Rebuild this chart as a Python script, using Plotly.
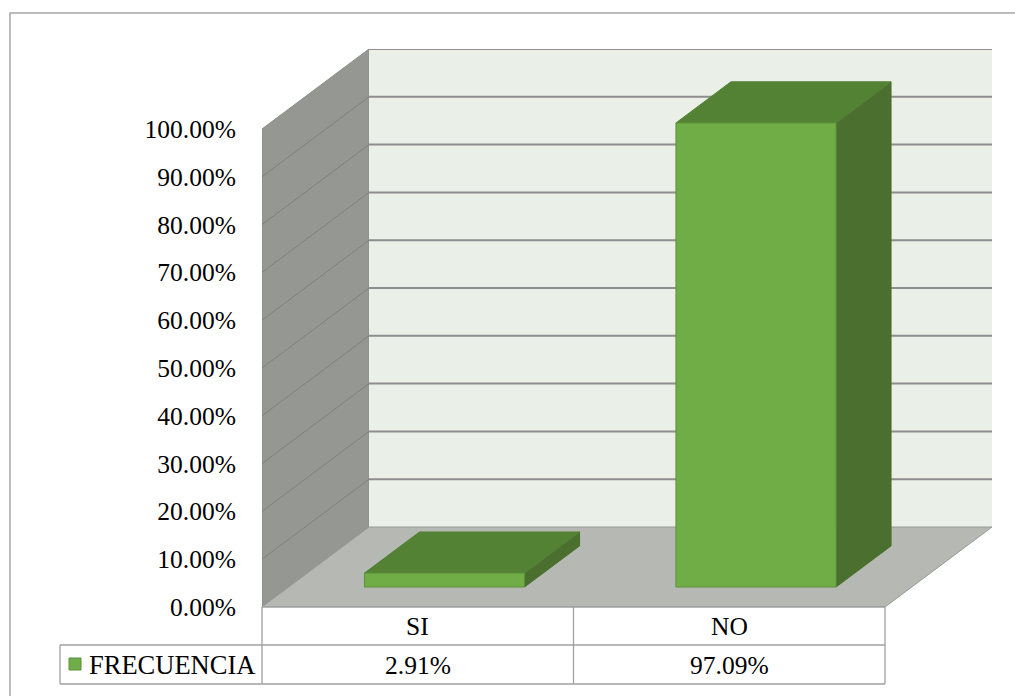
import plotly.graph_objects as go

# ---- data ----
categories = ["SI", "NO"]
frecuencia = [0.0291, 0.9709]
series_name = "FRECUENCIA"
y_ticks = [0.0, 0.1, 0.2, 0.3, 0.4, 0.5, 0.6, 0.7, 0.8, 0.9, 1.0]

# ---- page geometry (pixels) ----
W, H = 1015, 696
PLOT_L, PLOT_R, PLOT_T, PLOT_B = 262, 992, 49, 607
CAT_PX = 311.5          # width of one category along the front edge
VAL_PX = 478.0          # height of 100 %
DEPTH_DX_PX, DEPTH_DY_PX = 107.0, 80.0

DX = DEPTH_DX_PX / CAT_PX      # depth offset in x-axis units
DY = DEPTH_DY_PX / VAL_PX      # depth offset in y-axis units
X0 = -0.5
X1 = X0 + len(categories)
X_MAX = X0 + (PLOT_R - PLOT_L) / CAT_PX
Y_MAX = (PLOT_B - PLOT_T) / VAL_PX

BAR_W = 0.514                  # bar width in category units
D_FRONT, D_BACK = 0.25, 0.764  # bar depth position (0 = front, 1 = back wall)

FONT = "Liberation Serif, Times New Roman, serif"
FS = 25.5
FS_LEGEND = 26.5


def px_to_paper_x(px):
    return (px - PLOT_L) / (PLOT_R - PLOT_L)


def x_to_paper(xv):
    return (xv - X0) / (X_MAX - X0)


def py_to_paper(py):
    return (PLOT_B - py) / (PLOT_B - PLOT_T)


def proj(xc, v, d):
    """Oblique projection of (category position, value, depth) onto the axes."""
    return xc + d * DX, v + d * DY


def poly(points):
    xs = [p[0] for p in points] + [points[0][0]]
    ys = [p[1] for p in points] + [points[0][1]]
    return xs, ys


def face(fig, points, fill, line_color, line_w=1):
    xs, ys = poly(points)
    fig.add_trace(go.Scatter(
        x=xs, y=ys, mode="lines", fill="toself", fillcolor=fill,
        line=dict(color=line_color, width=line_w),
        hoverinfo="skip", showlegend=False))


fig = go.Figure()

# side wall
face(fig, [proj(X0, 0, 0), proj(X0, 1, 0), proj(X0, 1, 1), proj(X0, 0, 1)],
     "#959793", "#8a8c88", 1)
# back wall
face(fig, [proj(X0, 0, 1), proj(X1, 0, 1), proj(X1, 1, 1), proj(X0, 1, 1)],
     "#eaefe8", "rgba(0,0,0,0)", 0)

# gridlines on the side wall
gx, gy = [], []
for v in y_ticks[1:-1]:
    a, b = proj(X0, v, 0), proj(X0, v, 1)
    gx += [a[0], b[0], None]
    gy += [a[1], b[1], None]
fig.add_trace(go.Scatter(x=gx, y=gy, mode="lines",
                         line=dict(color="#7e807c", width=1),
                         hoverinfo="skip", showlegend=False))

# gridlines on the back wall
gx, gy = [], []
for v in y_ticks[1:]:
    a, b = proj(X0, v, 1), proj(X1, v, 1)
    gx += [a[0], b[0], None]
    gy += [a[1], b[1], None]
fig.add_trace(go.Scatter(x=gx, y=gy, mode="lines",
                         line=dict(color="#8e8e8e", width=2),
                         hoverinfo="skip", showlegend=False))

# floor
face(fig, [proj(X0, 0, 0), proj(X1, 0, 0), proj(X1, 0, 1), proj(X0, 0, 1)],
     "#b5b8b3", "#989a96", 1)

# 3-D columns
for i, v in enumerate(frecuencia):
    xl, xr = i - BAR_W / 2, i + BAR_W / 2
    # right side
    face(fig, [proj(xr, 0, D_FRONT), proj(xr, v, D_FRONT),
               proj(xr, v, D_BACK), proj(xr, 0, D_BACK)],
         "#4a6f2e", "#4a6f2e", 1)
    # top
    face(fig, [proj(xl, v, D_FRONT), proj(xr, v, D_FRONT),
               proj(xr, v, D_BACK), proj(xl, v, D_BACK)],
         "#548235", "#548235", 1)
    # front
    face(fig, [proj(xl, 0, D_FRONT), proj(xr, 0, D_FRONT),
               proj(xr, v, D_FRONT), proj(xl, v, D_FRONT)],
         "#70ad47", "#5b9139", 1)

# ---- data table under the plot (paper coordinates) ----
TABLE_LINE = dict(color="#a0a0a0", width=1.3)
row_mid_y = py_to_paper(645)
row_bot_y = py_to_paper(684)
legend_left = px_to_paper_x(60)
tbl_left, tbl_right = x_to_paper(X0), x_to_paper(X1)

shapes = []
shapes.append(dict(type="line", xref="paper", yref="paper",
                   x0=tbl_left, x1=tbl_right, y0=0, y1=0, line=TABLE_LINE))
for yy in (row_mid_y, row_bot_y):
    shapes.append(dict(type="line", xref="paper", yref="paper",
                       x0=legend_left, x1=tbl_right, y0=yy, y1=yy,
                       line=TABLE_LINE))
for k in range(len(categories) + 1):
    xx = x_to_paper(X0 + k)
    shapes.append(dict(type="line", xref="paper", yref="paper",
                       x0=xx, x1=xx, y0=0, y1=row_bot_y, line=TABLE_LINE))
shapes.append(dict(type="line", xref="paper", yref="paper",
                   x0=legend_left, x1=legend_left, y0=row_mid_y, y1=row_bot_y,
                   line=TABLE_LINE))
# legend key
shapes.append(dict(type="rect", xref="paper", yref="paper",
                   x0=px_to_paper_x(69), x1=px_to_paper_x(81),
                   y0=py_to_paper(658), y1=py_to_paper(670),
                   fillcolor="#70ad47", line=dict(color="#5b9139", width=1)))
# chart frame
shapes.append(dict(type="rect", xref="paper", yref="paper",
                   x0=px_to_paper_x(10), x1=px_to_paper_x(1030),
                   y0=py_to_paper(720), y1=py_to_paper(13),
                   line=dict(color="#a6a6a6", width=1.5),
                   fillcolor="rgba(0,0,0,0)"))

annotations = []
row1_y = py_to_paper(626)
row2_y = py_to_paper(665)
for i, (c, v) in enumerate(zip(categories, frecuencia)):
    annotations.append(dict(x=x_to_paper(i), y=row1_y, xref="paper",
                            yref="paper", text=c, showarrow=False,
                            xanchor="center", yanchor="middle",
                            font=dict(family=FONT, size=FS, color="#000")))
    annotations.append(dict(x=x_to_paper(i), y=row2_y, xref="paper",
                            yref="paper", text=f"{v:.2%}", showarrow=False,
                            xanchor="center", yanchor="middle",
                            font=dict(family=FONT, size=FS, color="#000")))
annotations.append(dict(x=px_to_paper_x(87), y=row2_y, xref="paper",
                        yref="paper", text=series_name, showarrow=False,
                        xanchor="left", yanchor="middle",
                        font=dict(family=FONT, size=FS_LEGEND, color="#000")))

fig.update_layout(
    width=W, height=H,
    margin=dict(l=PLOT_L, r=W - PLOT_R, t=PLOT_T, b=H - PLOT_B, pad=0),
    paper_bgcolor="white", plot_bgcolor="rgba(0,0,0,0)",
    showlegend=False,
    shapes=shapes, annotations=annotations,
    xaxis=dict(range=[X0, X_MAX], visible=False, fixedrange=True),
    yaxis=dict(range=[0, Y_MAX], tickvals=y_ticks, tickformat=".2%",
               showgrid=False, zeroline=False, showline=False,
               ticks="outside", ticklen=20, tickcolor="rgba(0,0,0,0)",
               tickfont=dict(family=FONT, size=FS, color="#000"),
               fixedrange=True),
)

fig.write_html("out.html")
